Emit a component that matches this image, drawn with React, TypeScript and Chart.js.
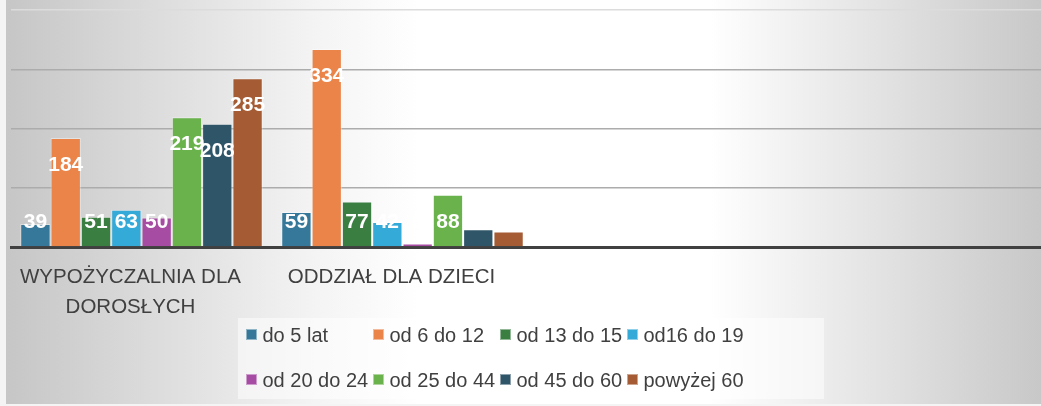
import React, { useEffect, useRef } from 'react';
import { Chart, registerables } from 'chart.js';

Chart.register(...registerables);

const categories: (string | string[])[] = [['WYPOŻYCZALNIA DLA', 'DOROSŁYCH'], 'ODDZIAŁ DLA DZIECI', '', ''];
const seriesNames = ['do 5 lat', 'od 6 do 12', 'od 13 do 15', 'od16 do 19', 'od 20 do 24', 'od 25 do 44', 'od 45 do 60', 'powyżej 60'];
const do5lat = [39, 59, null, null];
const od6do12 = [184, 334, null, null];
const od13do15 = [51, 77, null, null];
const od16do19 = [63, 42, null, null];
const od20do24 = [50, 6, null, null];
const od25do44 = [219, 88, null, null];
const od45do60 = [208, 30, null, null];
const powyzej60 = [285, 26, null, null];
const seriesValues = [do5lat, od6do12, od13do15, od16do19, od20do24, od25do44, od45do60, powyzej60];
const seriesColors = ['#36789a', '#ea8449', '#3a7e42', '#34aad9', '#a74ca3', '#6ab24b', '#2f5568', '#a55b33'];
const yTicks = [0, 100, 200, 300, 400];

const FONT = '"Liberation Sans", Arial, sans-serif';

const dataLabelPlugin = {
  id: 'dataLabels',
  afterDatasetsDraw(chart: any) {
    const ctx = chart.ctx;
    ctx.save();
    ctx.font = `bold 21px ${FONT}`;
    ctx.fillStyle = '#ffffff';
    ctx.textAlign = 'center';
    ctx.textBaseline = 'middle';
    chart.data.datasets.forEach((ds: any, i: number) => {
      const meta = chart.getDatasetMeta(i);
      meta.data.forEach((bar: any, j: number) => {
        const v = ds.data[j];
        if (v === null || v === undefined) return;
        const y = Math.min(bar.y + 27, bar.base - 24);
        ctx.fillText(String(v), bar.x, y);
      });
    });
    ctx.restore();
  },
};

const legendPlugin = {
  id: 'gridLegend',
  afterDraw(chart: any) {
    const ctx = chart.ctx;
    ctx.save();
    ctx.fillStyle = 'rgba(255,255,255,0.5)';
    ctx.fillRect(238, 318, 586, 81);
    ctx.font = `20px ${FONT}`;
    ctx.textAlign = 'left';
    ctx.textBaseline = 'middle';
    seriesNames.forEach((name, i) => {
      const col = i % 4;
      const row = Math.floor(i / 4);
      const x = 246 + col * 127;
      const yc = 335 + row * 45;
      ctx.fillStyle = seriesColors[i];
      ctx.fillRect(x, yc - 6, 11, 11);
      ctx.strokeStyle = 'rgba(255,255,255,0.45)';
      ctx.lineWidth = 1;
      ctx.strokeRect(x + 0.5, yc - 5.5, 10, 10);
      ctx.fillStyle = '#404040';
      ctx.fillText(name, x + 16.5, yc + 1);
    });
    ctx.restore();
  },
};

export default function App() {
  const ref = useRef<HTMLCanvasElement | null>(null);
  useEffect(() => {
    if (!ref.current) return;
    const chart = new Chart(ref.current, {
      type: 'bar',
      data: {
        labels: categories,
        datasets: seriesNames.map((name, i) => ({
          label: name,
          data: seriesValues[i],
          backgroundColor: seriesColors[i],
          borderColor: 'rgba(255,255,255,0.4)',
          borderWidth: 1,
          categoryPercentage: 0.929,
          barPercentage: 1,
        })),
      },
      options: {
        animation: false,
        responsive: true,
        maintainAspectRatio: false,
        layout: { padding: { left: 11, top: 10, right: 0, bottom: 0 } },
        plugins: { legend: { display: false }, tooltip: { enabled: false } },
        scales: {
          x: {
            grid: { display: true, color: 'rgba(0,0,0,0)', drawTicks: false },
            border: { display: true, color: '#404040', width: 3 },
            ticks: {
              autoSkip: false,
              maxRotation: 0,
              minRotation: 0,
              padding: 15,
              labelOffset: -11,
              color: '#404040',
              font: { family: FONT, size: 20.5, lineHeight: 1.47 },
            },
            afterFit: (s: any) => { s.height = 159; },
          },
          y: {
            min: 0,
            max: 400,
            afterBuildTicks: (s: any) => { s.ticks = yTicks.map((v) => ({ value: v })); },
            grid: {
              drawTicks: false,
              lineWidth: 1.5,
              color: (c: any) => (c.tick && c.tick.value === 400 ? '#dcdcdc' : c.tick && c.tick.value === 0 ? 'rgba(0,0,0,0)' : '#acacac'),
            },
            border: { display: false },
            ticks: { display: false },
            afterFit: (s: any) => { s.width = 0; },
          },
        },
      },
      plugins: [dataLabelPlugin, legendPlugin],
    });
    return () => chart.destroy();
  }, []);

  return (
    <div style={{ position: 'fixed', left: 0, top: 0, width: 1041, height: 406, overflow: 'hidden', background: '#f4f4f4' }}>
      <div
        style={{
          position: 'absolute',
          left: 6,
          top: 0,
          right: 0,
          bottom: 2,
          background: 'linear-gradient(to right, #c6c6c6 0%, #f4f4f4 30%, #ffffff 40%, #ffffff 68%, #c8c8c8 100%)',
        }}
      />
      <div style={{ position: 'absolute', left: 0, top: 0, width: 1055, height: 406 }}>
        <canvas ref={ref} />
      </div>
    </div>
  );
}
